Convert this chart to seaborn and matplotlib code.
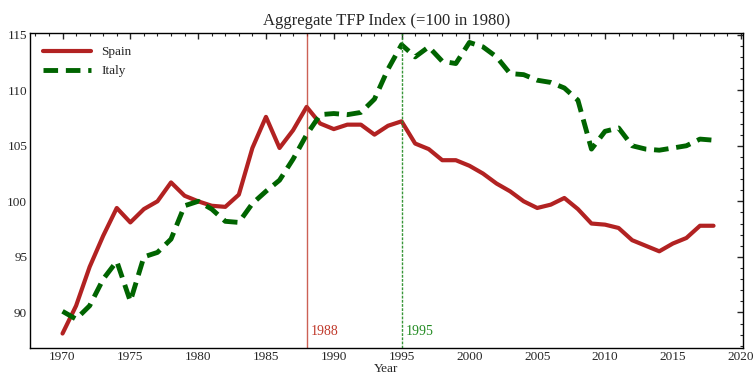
import matplotlib
matplotlib.use("Agg")
import matplotlib.pyplot as plt
import seaborn as sns
import pandas as pd
import numpy as np
from matplotlib.ticker import MultipleLocator

years = list(range(1970, 2019))
spain = [88.1, 90.6, 94.1, 96.9, 99.4, 98.1, 99.3, 100.0, 101.7, 100.5,
         100.0, 99.6, 99.5, 100.6, 104.8, 107.6, 104.8, 106.4, 108.5, 107.0,
         106.5, 106.9, 106.9, 106.0, 106.8, 107.2, 105.2, 104.7, 103.7, 103.7,
         103.2, 102.5, 101.6, 100.9, 100.0, 99.4, 99.7, 100.3, 99.3, 98.0,
         97.9, 97.6, 96.5, 96.0, 95.5, 96.2, 96.7, 97.8, 97.8]
italy = [90.1, 89.4, 90.6, 93.0, 94.6, 91.0, 95.0, 95.4, 96.6, 99.6,
         100.0, 99.3, 98.2, 98.1, 99.8, 100.9, 101.9, 103.8, 106.0, 107.8,
         107.9, 107.8, 108.0, 109.2, 111.9, 114.1, 113.0, 113.9, 112.6, 112.4,
         114.3, 113.9, 113.0, 111.5, 111.4, 110.9, 110.7, 110.2, 109.1, 104.7,
         106.3, 106.6, 105.0, 104.7, 104.6, 104.8, 105.0, 105.6, 105.5]
event_years = [1988, 1995]
event_labels = ["1988", "1995"]

sns.set_style("white")
plt.rcParams['font.family'] = ['Liberation Serif', 'DejaVu Serif']

df = pd.DataFrame({"Year": years + years,
                   "TFP": spain + italy,
                   "Country": ["Spain"] * len(years) + ["Italy"] * len(years)})

fig = plt.figure(figsize=(7.55, 3.77), dpi=100)
ax = fig.add_axes([0.0397, 0.077, 0.944, 0.8355])

sns.lineplot(data=df[df.Country == "Spain"], x="Year", y="TFP", ax=ax,
             color="#b22222", linewidth=3, label="Spain")
sns.lineplot(data=df[df.Country == "Italy"], x="Year", y="TFP", ax=ax,
             color="#006400", linewidth=3.5, linestyle=(0, (3, 1.6)), label="Italy")

ax.axvline(event_years[0], color="#c0392b", linewidth=1, alpha=0.8)
ax.axvline(event_years[1], color="#228b22", linewidth=1, linestyle=(0, (2, 1)), alpha=0.9)
ax.text(event_years[0] + 0.3, 88.3, event_labels[0], color="#c0392b", fontsize=10, va="center")
ax.text(event_years[1] + 0.3, 88.3, event_labels[1], color="#228b22", fontsize=10, va="center")

ax.set_xlim(1967.6, 2020.15)
ax.set_ylim(86.8, 115.15)
ax.xaxis.set_major_locator(MultipleLocator(5))
ax.xaxis.set_minor_locator(MultipleLocator(1))
ax.yaxis.set_major_locator(MultipleLocator(5))
ax.yaxis.set_minor_locator(MultipleLocator(1))
ax.tick_params(which="both", direction="in", top=True, right=True, labelsize=9.5, pad=2)
ax.tick_params(which="major", length=4, width=1)
ax.tick_params(which="minor", length=2, width=0.8)
for s in ax.spines.values():
    s.set_color("black")
    s.set_linewidth(1)

ax.set_title("Aggregate TFP Index (=100 in 1980)", fontsize=12, pad=6)
ax.set_xlabel("Year", fontsize=9.5, labelpad=0)
ax.set_ylabel("")
leg = ax.legend(loc="upper left", frameon=False, fontsize=9.5, handlelength=3.6,
                borderaxespad=0.6)

fig.savefig("out.png", dpi=100)
